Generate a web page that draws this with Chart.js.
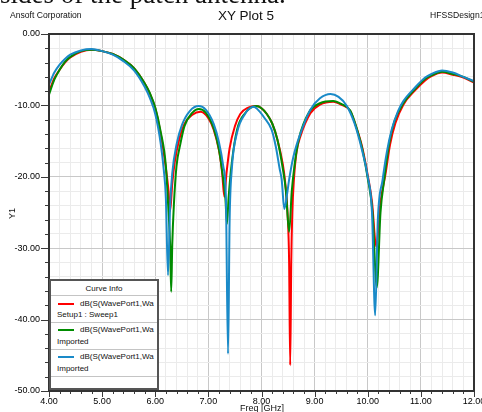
<!DOCTYPE html>
<html>
<head>
<meta charset="utf-8">
<script src="https://cdn.jsdelivr.net/npm/chart.js@4.4.1/dist/chart.umd.min.js"></script>
<style>
  body { margin: 0; background: #fff; }
  #wrap { position: relative; width: 482px; height: 412px; overflow: hidden; font-family: "Liberation Sans", Arial, sans-serif; color: #111; }
  .t { position: absolute; white-space: nowrap; line-height: 1; }
  #legendBox { position: absolute; left: 49px; top: 279px; width: 106px; height: 107px; border: 2px solid #555; background: #fff; font-size: 8px; }
  .sep { position: absolute; left: 0; right: 0; height: 0; border-top: 1px solid #c4c4c4; }
  .swatch { position: absolute; left: 7px; width: 16px; height: 0; border-top: 2px solid; }
</style>
</head>
<body>
<div id="wrap">
  <canvas id="xyPlot" width="482" height="412"></canvas>
  <div class="t" style="left:0;top:-19px;font:27px 'Liberation Serif',serif;line-height:27px;">sides of the patch antenna.</div>
  <div class="t" style="left:10px;top:11px;font-size:8.6px;">Ansoft Corporation</div>
  <div class="t" style="left:218px;top:9px;font-size:13.5px;">XY Plot 5</div>
  <div class="t" style="left:430px;top:11px;font-size:8.6px;">HFSSDesign1</div>
  <div class="t" style="left:7px;top:209px;font-size:9px;transform:rotate(-90deg);">Y1</div>
  <div class="t" style="left:240px;top:404px;font-size:9px;">Freq [GHz]</div>
  <div id="legendBox">
    <div class="t" style="left:0;right:0;top:4px;text-align:center;">Curve Info</div>
    <div class="sep" style="top:14px;"></div>
    <div class="swatch" style="top:22px;border-color:#ff0000;"></div>
    <div class="t" style="left:29px;top:19px;">dB(S(WavePort1,Wa</div>
    <div class="t" style="left:6px;top:30px;">Setup1 : Sweep1</div>
    <div class="sep" style="top:41px;"></div>
    <div class="swatch" style="top:48px;border-color:#008c00;"></div>
    <div class="t" style="left:29px;top:45px;">dB(S(WavePort1,Wa</div>
    <div class="t" style="left:6px;top:57px;">Imported</div>
    <div class="sep" style="top:68px;"></div>
    <div class="swatch" style="top:75px;border-color:#1a8ac8;"></div>
    <div class="t" style="left:29px;top:72px;">dB(S(WavePort1,Wa</div>
    <div class="t" style="left:6px;top:84px;">Imported</div>
    <div class="sep" style="top:95px;"></div>
  </div>
</div>
<script>
// frequency [GHz] and dB values, one pair of arrays per curve
const redFreq = [4.0, 4.1, 4.2, 4.3, 4.4, 4.6, 4.8, 5.0, 5.2, 5.4, 5.6, 5.8, 5.9, 6.0, 6.1, 6.2, 6.25, 6.28, 6.32, 6.37, 6.45, 6.55, 6.7, 6.85, 7.0, 7.1, 7.2, 7.26, 7.30, 7.34, 7.4, 7.5, 7.6, 7.75, 7.9, 8.0, 8.1, 8.2, 8.3, 8.4, 8.44, 8.49, 8.52, 8.54, 8.56, 8.58, 8.61, 8.66, 8.73, 8.92, 9.1, 9.35, 9.5, 9.67, 9.8, 9.9, 10.0, 10.08, 10.16, 10.24, 10.33, 10.42, 10.52, 10.67, 10.89, 11.08, 11.2, 11.4, 11.6, 11.8, 12.0];
const redDb = [-8.1, -6.2, -5.0, -4.0, -3.3, -2.5, -2.2, -2.4, -2.8, -3.6, -4.8, -6.9, -8.4, -10.4, -13.9, -18.8, -22.0, -24.8, -21.0, -17.8, -14.8, -12.6, -11.3, -10.9, -11.8, -13.4, -16.3, -19.5, -22.8, -19.6, -16.0, -12.9, -11.2, -10.3, -10.1, -10.4, -11.2, -12.5, -14.8, -18.2, -20.4, -25.0, -32.0, -46.4, -32.0, -25.0, -20.4, -16.5, -14.4, -11.1, -9.9, -9.5, -9.9, -10.8, -13.4, -16.0, -19.8, -23.5, -29.8, -23.5, -19.8, -15.5, -12.5, -9.9, -7.9, -6.5, -5.9, -5.4, -5.7, -6.1, -6.8];

const greenFreq = [4.0, 4.1, 4.2, 4.3, 4.4, 4.6, 4.8, 5.0, 5.2, 5.4, 5.6, 5.8, 5.9, 6.0, 6.1, 6.2, 6.25, 6.28, 6.30, 6.32, 6.35, 6.4, 6.47, 6.55, 6.7, 6.82, 6.95, 7.1, 7.2, 7.27, 7.32, 7.35, 7.38, 7.44, 7.54, 7.69, 7.9, 8.0, 8.1, 8.2, 8.3, 8.4, 8.46, 8.52, 8.57, 8.62, 8.7, 8.9, 9.1, 9.35, 9.5, 9.67, 9.8, 9.9, 10.0, 10.09, 10.17, 10.24, 10.31, 10.4, 10.5, 10.67, 10.89, 11.08, 11.2, 11.4, 11.6, 11.8, 12.0];
const greenDb = [-8.5, -6.4, -5.0, -3.9, -3.2, -2.4, -2.2, -2.4, -2.8, -3.6, -4.8, -6.9, -8.3, -10.3, -13.6, -18.5, -25.0, -29.5, -36.1, -29.5, -24.0, -18.5, -15.5, -12.9, -11.0, -10.5, -11.0, -13.2, -16.2, -19.8, -23.0, -26.6, -23.0, -18.1, -13.4, -11.1, -10.1, -10.4, -11.2, -12.5, -14.8, -18.8, -22.0, -27.7, -22.0, -18.5, -14.8, -10.9, -9.7, -9.4, -9.8, -10.7, -13.4, -16.2, -20.2, -25.0, -35.5, -25.0, -20.4, -15.5, -12.3, -9.7, -7.7, -6.3, -5.8, -5.3, -5.6, -6.0, -6.7];

const blueFreq = [4.0, 4.1, 4.2, 4.3, 4.4, 4.6, 4.8, 5.0, 5.2, 5.4, 5.6, 5.8, 5.9, 6.0, 6.1, 6.16, 6.2, 6.24, 6.28, 6.32, 6.4, 6.5, 6.65, 6.82, 6.95, 7.1, 7.2, 7.28, 7.33, 7.37, 7.40, 7.44, 7.54, 7.69, 7.85, 7.97, 8.05, 8.19, 8.27, 8.34, 8.38, 8.43, 8.48, 8.52, 8.6, 8.73, 8.92, 9.1, 9.3, 9.45, 9.6, 9.75, 9.9, 10.0, 10.08, 10.14, 10.19, 10.28, 10.36, 10.45, 10.57, 10.67, 10.89, 11.08, 11.2, 11.4, 11.6, 11.8, 12.0];
const blueDb = [-7.1, -5.4, -4.3, -3.5, -2.9, -2.3, -2.1, -2.4, -2.9, -3.8, -5.1, -7.4, -9.0, -11.2, -15.2, -19.0, -23.0, -33.8, -24.0, -19.5, -15.5, -12.8, -10.8, -10.1, -10.6, -12.6, -15.2, -18.5, -23.0, -44.8, -26.0, -19.0, -13.8, -11.2, -10.2, -10.9, -11.7, -13.4, -15.8, -18.8, -20.4, -24.5, -22.5, -20.4, -17.2, -14.0, -10.6, -9.0, -8.4, -8.8, -10.0, -12.5, -16.5, -20.0, -25.0, -39.4, -26.0, -20.4, -16.5, -13.4, -10.8, -9.4, -7.5, -6.1, -5.6, -5.1, -5.4, -6.0, -6.6];

const xMin = 4, xMax = 12, xMinorStep = 0.2;
const yMin = -50, yMax = 0, yMinorStep = 2;

function toPoints(xs, ys) {
    return xs.map((x, i) => ({ x: x, y: ys[i] }));
}
function isMajorX(v) { return Math.abs(v - Math.round(v)) < 1e-6; }
function isMajorY(v) { return Math.abs(v / 10 - Math.round(v / 10)) < 1e-6; }

// frame round the plot area plus Ansoft style outside tick marks
const frameTicks = {
    id: 'frameTicks',
    afterDraw(chart) {
        const { ctx, chartArea: a, scales } = chart;
        ctx.save();
        ctx.strokeStyle = '#3a3a3a';
        ctx.lineWidth = 1;
        ctx.beginPath();
        scales.x.ticks.forEach(t => {
            const px = Math.round(scales.x.getPixelForValue(t.value)) + 0.5;
            const len = isMajorX(t.value) ? 6 : 3;
            ctx.moveTo(px, a.bottom);
            ctx.lineTo(px, a.bottom + len);
        });
        scales.y.ticks.forEach(t => {
            const py = Math.round(scales.y.getPixelForValue(t.value)) + 0.5;
            const len = isMajorY(t.value) ? 8 : 4;
            ctx.moveTo(a.left, py);
            ctx.lineTo(a.left - len, py);
        });
        ctx.stroke();
        ctx.lineWidth = 2;
        ctx.strokeStyle = '#333';
        ctx.strokeRect(a.left, a.top, a.right - a.left, a.bottom - a.top);
        ctx.restore();
    }
};

const lineStyle = {
    borderWidth: 2,
    pointRadius: 0,
    fill: false,
    cubicInterpolationMode: 'monotone'
};

const ctxXyPlot = document.getElementById('xyPlot');
new Chart(ctxXyPlot, {
    type: 'line',
    data: {
        datasets: [
            { label: 'Imported 2', data: toPoints(blueFreq, blueDb), borderColor: '#1a8ac8', order: 0, ...lineStyle },
            { label: 'Imported 1', data: toPoints(greenFreq, greenDb), borderColor: '#008c00', order: 1, ...lineStyle },
            { label: 'Setup1 : Sweep1', data: toPoints(redFreq, redDb), borderColor: '#ff0000', order: 2, ...lineStyle }
        ]
    },
    options: {
        responsive: false,
        animation: false,
        layout: { padding: { left: 0, top: 34, right: 8, bottom: 0 } },
        plugins: { legend: { display: false }, tooltip: { enabled: false } },
        scales: {
            x: {
                type: 'linear',
                min: xMin,
                max: xMax,
                afterFit(scale) { scale.height = 21; scale.paddingLeft = 0; scale.paddingRight = 0; },
                ticks: {
                    stepSize: xMinorStep,
                    autoSkip: false,
                    maxRotation: 0,
                    padding: 5,
                    color: '#000',
                    font: { family: "'Liberation Sans', Arial, sans-serif", size: 9 },
                    callback: v => isMajorX(v) ? v.toFixed(2) : ''
                },
                grid: {
                    drawTicks: false,
                    color: c => isMajorX(c.tick.value) ? '#c8c8c8' : '#ebebeb',
                    lineWidth: 1
                },
                border: { display: false }
            },
            y: {
                min: yMin,
                max: yMax,
                afterFit(scale) { scale.width = 49; },
                ticks: {
                    stepSize: yMinorStep,
                    autoSkip: false,
                    padding: 9,
                    color: '#000',
                    font: { family: "'Liberation Sans', Arial, sans-serif", size: 9 },
                    callback: v => isMajorY(v) ? v.toFixed(2) : ''
                },
                grid: {
                    drawTicks: false,
                    color: c => isMajorY(c.tick.value) ? '#c8c8c8' : '#ebebeb',
                    lineWidth: 1
                },
                border: { display: false }
            }
        }
    },
    plugins: [frameTicks]
});
</script>
</body>
</html>
